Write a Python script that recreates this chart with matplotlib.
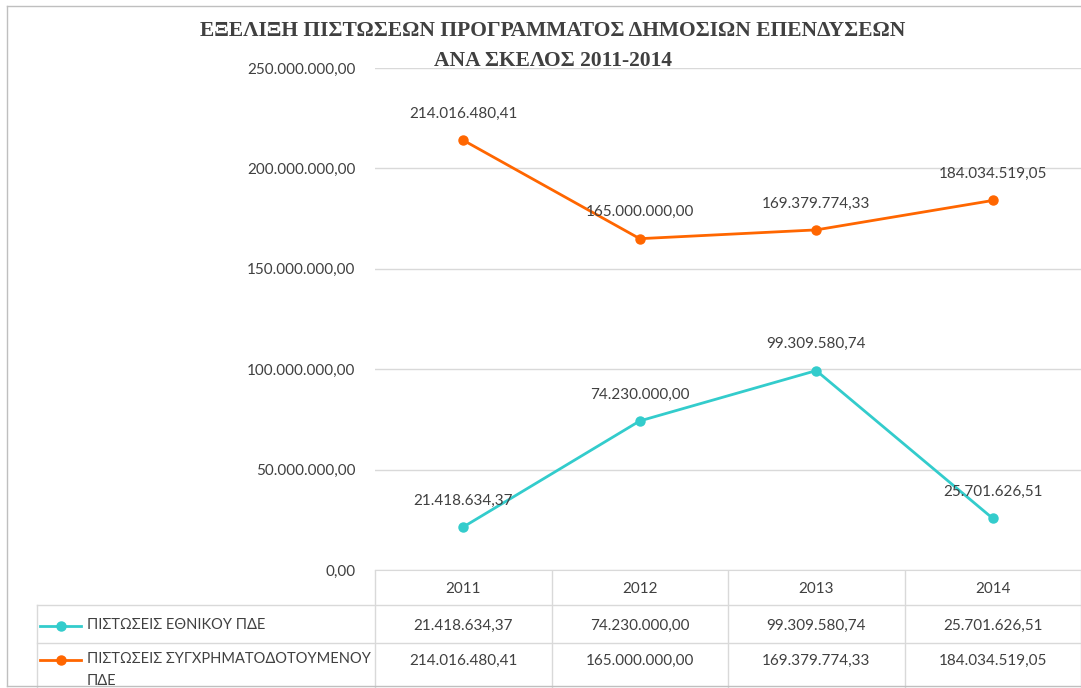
import matplotlib.pyplot as plt
from matplotlib.lines import Line2D

# data
years = ['2011', '2012', '2013', '2014']
ethniko = [21418634.37, 74230000.00, 99309580.74, 25701626.51]
sygxrim = [214016480.41, 165000000.00, 169379774.33, 184034519.05]
series_names = ['ΠΙΣΤΩΣΕΙΣ ΕΘΝΙΚΟΥ ΠΔΕ', 'ΠΙΣΤΩΣΕΙΣ ΣΥΓΧΡΗΜΑΤΟΔΟΤΟΥΜΕΝΟΥ\nΠΔΕ']
title_lines = ['ΕΞΕΛΙΞΗ ΠΙΣΤΩΣΕΩΝ ΠΡΟΓΡΑΜΜΑΤΟΣ ΔΗΜΟΣΙΩΝ ΕΠΕΝΔΥΣΕΩΝ',
               'ΑΝΑ ΣΚΕΛΟΣ 2011-2014']

CYAN = '#33CCCC'
ORANGE = '#FF6600'
TXT = '#404040'
GRID = '#D9D9D9'
FRAME = '#BFBFBF'


def fmt(v):
    s = f'{v:,.2f}'
    return s.replace(',', 'X').replace('.', ',').replace('X', '.')


def main():
    plt.rcParams['font.family'] = ['Lato', 'DejaVu Sans']
    W, H = 1081, 688
    fig = plt.figure(figsize=(W / 100, H / 100), dpi=100)

    # main plot area (pixels: x 375..1081, y 68..570)
    ax = fig.add_axes([375 / W, 1 - 570 / H, 706 / W, (570 - 68) / H])
    x = list(range(len(years)))
    ax.plot(x, ethniko, color=CYAN, lw=2, marker='o', ms=6.5, zorder=3)
    ax.plot(x, sygxrim, color=ORANGE, lw=2, marker='o', ms=6.5, zorder=3)
    for series in (ethniko, sygxrim):
        for i, v in enumerate(series):
            ax.annotate(fmt(v), (i, v), xytext=(0, 19), textcoords='offset points',
                        ha='center', va='center', fontsize=11, color=TXT)

    ax.set_xlim(-0.5, len(years) - 0.5)
    ax.set_ylim(0, 250000000)
    ax.set_yticks(range(0, 250000001, 50000000))
    ax.set_yticklabels([fmt(t) for t in range(0, 250000001, 50000000)])
    ax.tick_params(axis='y', length=0, pad=14, labelsize=11, labelcolor=TXT)
    ax.set_xticks([])
    ax.grid(axis='y', color=GRID, lw=1)
    ax.set_axisbelow(True)
    for s in ['top', 'right', 'left']:
        ax.spines[s].set_visible(False)
    ax.spines['bottom'].set_color(GRID)

    # title (two lines)
    for line, yy in zip(title_lines, (31, 61)):
        fig.text(553 / W, 1 - yy / H, line, ha='center', va='center', fontsize=15.5,
                 fontweight='bold', family='Liberation Serif', color=TXT)

    # data table below the chart, same category scale as the plot
    cw = 706 / len(years)  # column width in pixels
    tx = fig.add_axes([0, 0, 1, 1 - 570 / H])
    tx.set_xlim(-0.5 - 375 / cw, len(years) - 0.5)
    tx.set_ylim(688, 570)
    tx.axis('off')
    left = -0.5 - (375 - 37) / cw
    for i in range(len(years) + 1):
        tx.plot([i - 0.5, i - 0.5], [570, 688], color=GRID, lw=1)
    tx.plot([left, left], [605, 688], color=GRID, lw=1)
    for yy in (605, 643):
        tx.plot([left, len(years) - 0.5], [yy, yy], color=GRID, lw=1)
    for i, yr in enumerate(years):
        tx.text(i, 589, yr, ha='center', va='center', fontsize=11, color=TXT)
        tx.text(i, 626, fmt(ethniko[i]), ha='center', va='center', fontsize=11, color=TXT)
        tx.text(i, 661, fmt(sygxrim[i]), ha='center', va='center', fontsize=11, color=TXT)

    sw0 = -0.5 - (375 - 40) / cw
    sw1 = -0.5 - (375 - 81) / cw
    txt_x = -0.5 - (375 - 87) / cw
    for yy, col, name in ((626, CYAN, series_names[0]), (660, ORANGE, series_names[1])):
        tx.add_line(Line2D([sw0, sw1], [yy, yy], color=col, lw=2))
        tx.plot([(sw0 + sw1) / 2], [yy], 'o', color=col, ms=6.5)
        tx.text(txt_x, yy - 8, name, ha='left', va='top', fontsize=10.5, color=TXT,
                linespacing=1.7)

    # outer chart frame (right side cut off in the original)
    fig.add_artist(Line2D([7 / W, 7 / W], [1 - 686 / H, 1 - 6 / H], color=FRAME, lw=1))
    fig.add_artist(Line2D([7 / W, 1], [1 - 6 / H, 1 - 6 / H], color=FRAME, lw=1))
    fig.add_artist(Line2D([7 / W, 1], [1 - 686 / H, 1 - 686 / H], color=FRAME, lw=1))

    fig.savefig('out.png', dpi=100)


if __name__ == '__main__':
    main()
